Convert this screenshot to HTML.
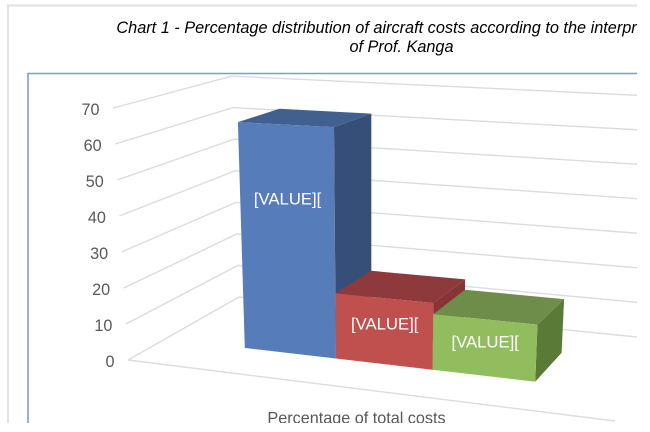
<!DOCTYPE html>
<html lang="en">
<head>
<meta charset="utf-8">
<title>Chart 1</title>
<style>
html,body{margin:0;padding:0;background:#fff;width:650px;height:432px;overflow:hidden}
svg{display:block;font-family:"Liberation Sans",Arial,sans-serif}
</style>
</head>
<body>
<svg id="chart" xmlns="http://www.w3.org/2000/svg" width="650" height="432" viewBox="0 0 650 432">
  <defs><clipPath id="clip"><rect x="0" y="0" width="637" height="423"></rect></clipPath></defs>
  <g id="root" clip-path="url(#clip)">
    <path d="M8 432V5.5H650" fill="none" stroke="#e2e2e2" stroke-width="2"></path>
    <path d="M28 432V73.5H650" fill="none" stroke="#7f9ccb" stroke-width="1.6"></path>
    <text x="401" y="33" text-anchor="middle" font-size="16.3" font-style="italic" fill="#000">Chart 1 - Percentage distribution of aircraft costs according to the interpretation</text>
    <text x="401.5" y="52" text-anchor="middle" font-size="16.3" font-style="italic" fill="#000">of Prof. Kanga</text>
    <g id="grid"></g>
    <g id="bars"></g>
    <text x="356.5" y="423.5" text-anchor="middle" font-size="16.2" fill="#595959">Percentage of total costs</text>
  </g>
</svg>
<script>
const tickValues = [0, 10, 20, 30, 40, 50, 60, 70];
const barValues = [64, 18, 15];
const barLabels = ['[VALUE][', '[VALUE][', '[VALUE]['];
const barKeys = ['blue', 'red', 'green'];

const faceFills = {
  blue: { front: '#567cb9', top: '#41608f', side: '#364f79' },
  red: { front: '#c0504d', top: '#8e393c', side: '#873436' },
  green: { front: '#92bd5f', top: '#6f8d4a', side: '#5a7a38' }
};

const SVG_NS = 'http://www.w3.org/2000/svg';

// Floor homography (u: left to right, w: front to back)
const HG = -0.14, HH = 0.1431;
const VP = { x: 371, y: 4450 };
const HEIGHT_SCALE = 0.00088;

function weight(u, w) {
  return 1 + HG * u + HH * w;
}
function floorPoint(u, w) {
  const k = weight(u, w);
  return {
    x: (400.9 * u + 145.2 * w + 128) / k,
    y: (2.06 * u - 20.5 * w + 360) / k
  };
}
function project(u, w, v) {
  const f = floorPoint(u, w);
  const t = v * HEIGHT_SCALE / weight(u, w) / (1 + 0.013 * w + 0.027 * u * w);
  return { x: f.x + (f.x - VP.x) * t, y: f.y + (f.y - VP.y) * t };
}
function pts(list) {
  return list.map(function (p) { return p.x.toFixed(1) + ',' + p.y.toFixed(1); }).join(' ');
}

const gridGroup = document.getElementById('grid');
const barsGroup = document.getElementById('bars');

function drawLine(points) {
  const el = document.createElementNS(SVG_NS, 'polyline');
  el.setAttribute('points', pts(points));
  el.setAttribute('fill', 'none');
  el.setAttribute('stroke', '#dcdcdc');
  el.setAttribute('stroke-width', '1.4');
  return el;
}

const floorFront = drawLine([project(0, 0, 0), project(1, 0, 0)]);


gridGroup.appendChild(floorFront);

tickValues.forEach(function (v) {
  const line = drawLine([project(0, 0, v), project(0, 1, v), project(1, 1, v)]);
  
  
  gridGroup.appendChild(line);

  const start = project(0, 0, v);
  const label = document.createElementNS(SVG_NS, 'text');
  
  
  label.setAttribute('x', (start.x - 13.5).toFixed(1));
  label.setAttribute('y', (start.y + 6.8).toFixed(1));
  label.setAttribute('text-anchor', 'end');
  label.setAttribute('font-size', '16.2');
  label.setAttribute('fill', '#595959');
  label.textContent = String(v);
  gridGroup.appendChild(label);
});

const U_START = 0.19, U_STEP = 0.207, W_FRONT = 0.31, W_BACK = 0.69;

function drawFace(points, fill, name) {
  const el = document.createElementNS(SVG_NS, 'polygon');
  el.setAttribute('points', pts(points));
  el.setAttribute('fill', fill);
  
  
  barsGroup.appendChild(el);
}

barValues.forEach(function (v, i) {
  const u0 = U_START + U_STEP * i;
  const u1 = u0 + U_STEP;
  const c = faceFills[barKeys[i]];
  const key = barKeys[i];

  drawFace([project(u1, W_FRONT, 0), project(u1, W_BACK, 0), project(u1, W_BACK, v), project(u1, W_FRONT, v)], c.side, 'bar-' + key + '-side');
  drawFace([project(u0, W_FRONT, v), project(u1, W_FRONT, v), project(u1, W_BACK, v), project(u0, W_BACK, v)], c.top, 'bar-' + key + '-top');
  drawFace([project(u0, W_FRONT, 0), project(u1, W_FRONT, 0), project(u1, W_FRONT, v), project(u0, W_FRONT, v)], c.front, 'bar-' + key + '-front');
});

barValues.forEach(function (v, i) {
  const uc = U_START + U_STEP * (i + 0.5);
  const p = project(uc, W_FRONT, v * 0.7);
  const text = document.createElementNS(SVG_NS, 'text');
  
  
  text.setAttribute('x', (p.x + 1).toFixed(1));
  text.setAttribute('y', (p.y + 11.5).toFixed(1));
  text.setAttribute('text-anchor', 'middle');
  text.setAttribute('font-size', '16.7');
  text.setAttribute('fill', '#ffffff');
  text.textContent = barLabels[i];
  barsGroup.appendChild(text);
});
</script>
</body>
</html>
